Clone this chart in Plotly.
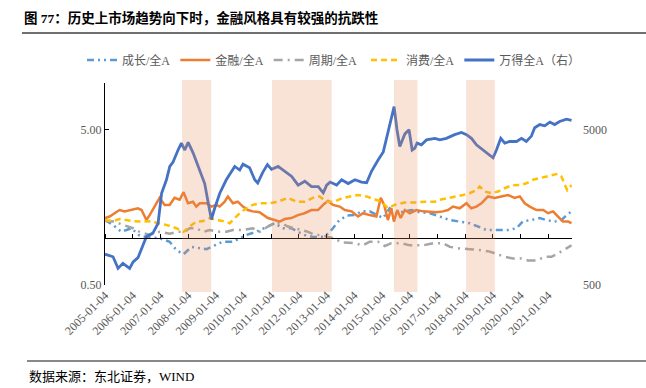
import plotly.graph_objects as go

# ---------------- data ----------------
wind_dates = ["2005-01-04","2005-04-20","2005-06-25","2005-08-28","2005-11-25","2006-01-10","2006-03-15","2006-05-20",
              "2006-07-05","2006-09-28","2006-12-05","2007-01-20","2007-03-25","2007-05-08","2007-06-20","2007-08-25",
              "2007-10-08","2007-11-22","2008-01-05","2008-03-10","2008-05-14","2008-06-28","2008-08-10","2008-09-22",
              "2008-11-06","2008-12-20","2009-02-25","2009-05-22","2009-07-28","2009-09-10","2009-11-15","2009-12-28",
              "2010-03-25","2010-06-01","2010-07-10","2010-09-13","2010-11-15","2011-01-08","2011-04-05","2011-07-04",
              "2011-10-01","2011-12-25","2012-03-22","2012-06-18","2012-09-15","2012-11-20","2013-01-04","2013-02-18",
              "2013-05-15","2013-07-20","2013-10-15","2014-01-12","2014-04-08","2014-06-15","2014-08-18","2014-11-15",
              "2015-01-20","2015-03-04","2015-04-18","2015-06-12","2015-07-20","2015-08-26","2015-11-01","2015-12-26",
              "2016-02-05","2016-03-10","2016-04-10","2016-06-06","2016-08-12","2016-12-01","2017-02-04","2017-05-01",
              "2017-08-18","2017-11-16","2018-01-22","2018-03-28","2018-06-01","2018-08-28","2018-11-01","2019-01-06",
              "2019-02-20","2019-04-18","2019-06-10","2019-08-14","2019-11-12","2020-01-16","2020-03-20","2020-05-26",
              "2020-07-08","2020-09-13","2020-11-18","2021-01-24","2021-03-28","2021-06-02","2021-09-01","2021-11-06"]
wind_values = [790,760,640,690,640,705,750,900,1025,1080,1250,1950,2380,2900,3100,3700,4100,3700,4150,3550,
               2900,2550,2250,1730,1320,1560,1950,2380,2700,2900,2750,3000,2850,2380,2270,2650,2980,2780,2900,2700,
               2500,2200,2330,2150,2150,1960,2200,2300,2200,2380,2250,2380,2300,2280,2700,3200,3600,4400,5400,7050,
               5000,3900,4700,5000,3700,3800,4100,4000,4300,4400,4300,4400,4650,4800,4650,4400,4000,3700,3450,3300,
               3700,4400,4100,4200,4200,4400,4200,4550,5150,5400,5300,5600,5400,5650,5850,5750]

fin_dates = ["2005-01-04","2005-03-06","2005-05-10","2005-07-15","2005-09-20","2005-12-18","2006-03-13","2006-05-01",
             "2006-07-04","2006-08-15","2006-10-20","2006-12-25","2007-03-01","2007-05-06","2007-07-10","2007-09-15",
             "2007-11-06","2008-01-03","2008-03-09","2008-04-21","2008-06-06","2008-09-03","2008-11-06","2009-01-12",
             "2009-02-24","2009-05-01","2009-06-12","2009-08-18","2009-10-21","2009-12-27","2010-03-03","2010-05-06",
             "2010-08-03","2010-11-21","2011-02-18","2011-04-24","2011-07-01","2011-09-27","2011-12-22","2012-03-19",
             "2012-06-16","2012-09-12","2012-11-18","2013-01-22","2013-03-28","2013-06-25","2013-09-01","2013-11-28",
             "2014-02-22","2014-04-28","2014-07-25","2014-10-22","2014-12-18","2015-02-01","2015-03-22","2015-05-06",
             "2015-06-10","2015-07-24","2015-09-07","2015-11-01","2016-01-04","2016-04-01","2016-06-28","2016-09-25",
             "2016-12-21","2017-03-16","2017-05-22","2017-07-27","2017-10-24","2018-01-21","2018-03-26","2018-06-01",
             "2018-08-06","2018-11-01","2019-01-28","2019-04-25","2019-07-22","2019-10-19","2019-12-25","2020-02-28",
             "2020-05-04","2020-08-01","2020-10-28","2021-01-01","2021-03-07","2021-05-12","2021-07-16","2021-09-22",
             "2021-11-06"]
fin_values = [1.35,1.38,1.45,1.52,1.49,1.52,1.56,1.52,1.31,1.41,1.60,1.82,1.64,1.64,1.82,1.77,1.98,1.68,1.72,1.60,
              1.68,1.68,1.60,1.64,1.60,1.72,1.86,1.68,1.72,1.60,1.52,1.49,1.47,1.35,1.31,1.28,1.33,1.35,1.41,1.45,
              1.52,1.52,1.64,1.74,1.64,1.60,1.52,1.49,1.38,1.45,1.41,1.38,1.82,1.64,1.31,1.56,1.28,1.52,1.35,1.52,
              1.45,1.52,1.49,1.48,1.47,1.49,1.52,1.60,1.56,1.68,1.56,1.60,1.68,1.86,1.82,1.86,1.90,1.82,1.86,1.68,
              1.60,1.52,1.52,1.45,1.49,1.38,1.28,1.28,1.25]

con_dates = ["2005-01-04","2005-04-20","2005-07-15","2005-10-12","2006-01-09","2006-05-19","2006-09-06","2006-12-03",
             "2007-03-22","2007-08-03","2007-11-06","2008-01-25","2008-04-21","2008-07-18","2008-10-15","2009-01-12",
             "2009-04-07","2009-07-06","2009-09-10","2009-11-15","2010-02-12","2010-05-06","2010-08-03","2010-12-15",
             "2011-04-03","2011-08-12","2011-12-01","2012-03-19","2012-07-06","2012-10-03","2013-01-01","2013-04-18",
             "2013-08-06","2013-11-28","2014-02-22","2014-06-12","2014-10-01","2014-12-27","2015-03-22","2015-06-19",
             "2015-11-01","2016-03-10","2016-07-19","2016-12-01","2017-02-04","2017-06-16","2017-09-12","2017-12-07",
             "2018-03-04","2018-06-01","2018-07-15","2018-09-19","2018-12-16","2019-03-13","2019-06-09","2019-09-06",
             "2019-12-25","2020-03-22","2020-06-16","2020-09-12","2020-12-10","2021-03-07","2021-05-07","2021-06-25",
             "2021-08-10","2021-09-10","2021-11-06"]
con_values = [1.31,1.29,1.33,1.31,1.29,1.28,1.29,1.25,1.22,1.16,1.10,1.19,1.28,1.29,1.35,1.31,1.29,1.25,1.35,1.45,
              1.56,1.64,1.68,1.68,1.72,1.82,1.72,1.72,1.82,1.86,1.72,1.72,1.82,1.86,1.90,1.86,1.77,1.72,1.56,1.64,
              1.70,1.70,1.72,1.72,1.77,1.82,1.86,1.90,1.95,2.04,2.15,2.00,1.95,2.00,2.10,2.19,2.20,2.26,2.38,2.44,
              2.50,2.56,2.60,2.50,2.20,2.04,2.20]

gro_dates = ["2005-01-04","2005-04-20","2005-08-07","2005-12-18","2006-04-06","2006-07-04","2006-12-25","2007-05-06",
             "2007-08-03","2007-11-06","2008-02-18","2008-06-06","2008-09-03","2008-12-20","2009-04-07","2009-08-18",
             "2009-11-15","2010-02-12","2010-06-21","2010-10-09","2011-02-18","2011-06-07","2011-09-27","2011-12-22",
             "2012-03-19","2012-07-06","2012-10-27","2013-01-01","2013-03-28","2013-06-03","2013-09-21","2014-01-09",
             "2014-04-06","2014-07-25","2014-10-22","2015-01-18","2015-04-15","2015-07-12","2015-11-01","2016-01-27",
             "2016-05-15","2016-09-25","2017-02-04","2017-06-16","2017-10-24","2018-03-04","2018-06-22","2018-10-12",
             "2019-01-07","2019-04-25","2019-07-22","2019-11-12","2020-02-06","2020-05-26","2020-09-12","2020-12-10",
             "2021-03-28","2021-06-25","2021-09-01","2021-11-06"]
gro_values = [1.31,1.22,1.10,1.16,1.04,1.02,1.00,0.95,0.84,0.79,0.88,0.86,0.85,0.90,0.95,0.95,1.00,1.05,1.10,1.16,
              1.25,1.16,1.16,1.10,1.05,1.02,1.02,1.05,1.16,1.28,1.40,1.41,1.49,1.49,1.41,1.35,1.56,1.45,1.49,1.52,
              1.47,1.45,1.38,1.31,1.28,1.25,1.19,1.13,1.13,1.13,1.13,1.16,1.29,1.31,1.35,1.31,1.28,1.31,1.41,1.49]

cyc_dates = ["2005-01-04","2005-05-10","2005-08-28","2006-01-09","2006-04-06","2006-08-15","2006-12-25","2007-05-06",
             "2007-08-24","2007-11-20","2008-01-25","2008-04-21","2008-07-18","2008-10-15","2009-02-24","2009-05-22",
             "2009-08-18","2009-12-27","2010-05-06","2010-08-03","2010-11-21","2011-02-18","2011-05-16","2011-08-12",
             "2011-11-10","2012-02-06","2012-05-04","2012-08-01","2012-10-27","2013-01-22","2013-04-18","2013-07-16",
             "2013-10-12","2014-01-09","2014-04-28","2014-07-25","2014-11-13","2015-02-10","2015-05-06","2015-09-16",
             "2016-01-04","2016-06-28","2016-11-07","2017-03-16","2017-06-16","2017-10-24","2018-03-04","2018-07-15",
             "2018-11-25","2019-02-21","2019-06-09","2019-09-27","2020-01-16","2020-04-12","2020-08-01","2020-11-18",
             "2021-02-15","2021-05-12","2021-09-01","2021-11-06"]
cyc_values = [1.29,1.28,1.22,1.16,1.10,1.05,1.10,1.07,1.10,1.10,1.16,1.16,1.10,1.13,1.10,1.10,1.13,1.13,1.16,1.10,
              1.19,1.25,1.25,1.19,1.16,1.13,1.10,1.05,1.05,1.02,1.00,0.94,0.93,0.93,0.90,0.95,0.95,0.89,0.93,0.93,
              0.90,0.90,0.93,0.93,0.88,0.86,0.85,0.84,0.82,0.79,0.76,0.74,0.74,0.72,0.72,0.76,0.76,0.80,0.86,0.90]

tick_labels = ["2005-01-04","2006-01-04","2007-01-04","2008-01-04","2009-01-04","2010-01-04","2011-01-04",
               "2012-01-04","2013-01-04","2014-01-04","2015-01-04","2016-01-04","2017-01-04","2018-01-04",
               "2019-01-04","2020-01-04","2021-01-04"]
period_starts = ["2007-10-16", "2011-01-14", "2015-06-10", "2018-01-16"]
period_ends = ["2008-11-04", "2013-03-10", "2016-04-15", "2019-01-30"]

# ---------------- figure ----------------
serif = "Liberation Serif, Noto Sans CJK SC"
gray_txt = "#595959"
L, R, T, B = 105, 74, 83, 103
PW, PH = 646 - L - R, 388 - T - B


def px_x(p):
    return (p - L) / PW


def px_y(p):
    return 1 - (p - T) / PH


fig = go.Figure()
fig.add_trace(go.Scatter(x=gro_dates, y=gro_values, name="成长/全A", mode="lines", legend="legend",
                         line=dict(color="#5B9BD5", width=2.5, dash="7px,4px,2px,4px,2px,4px")))
fig.add_trace(go.Scatter(x=fin_dates, y=fin_values, name="金融/全A", mode="lines", legend="legend",
                         line=dict(color="#ED7D31", width=2.5)))
fig.add_trace(go.Scatter(x=cyc_dates, y=cyc_values, name="周期/全A", mode="lines", legend="legend",
                         line=dict(color="#A5A5A5", width=2.5, dash="9px,5px,2px,5px")))
fig.add_trace(go.Scatter(x=con_dates, y=con_values, name="消费/全A", mode="lines", legend="legend2",
                         line=dict(color="#FFC000", width=2.5, dash="6px,4px")))
fig.add_trace(go.Scatter(x=wind_dates, y=wind_values, name="万得全A（右）", mode="lines", legend="legend2",
                         xaxis="x2", yaxis="y2",
                         line=dict(color="#4472C4", width=2.8)))

for s, e in zip(period_starts, period_ends):
    fig.add_shape(type="rect", xref="x", yref="paper", x0=s, x1=e, y0=px_y(292), y1=px_y(80),
                  fillcolor="rgba(230,140,90,0.25)", line_width=0, layer="above")

leg_font = dict(family=serif, size=12, color=gray_txt)
x_end = "2021-11-12"
fig.update_layout(
    width=646, height=388, autosize=False,
    margin=dict(l=L, r=R, t=T, b=B),
    paper_bgcolor="white", plot_bgcolor="white",
    showlegend=True,
    legend=dict(orientation="h", x=px_x(82), xanchor="left", y=px_y(60), yanchor="middle",
                font=leg_font, bgcolor="rgba(0,0,0,0)", itemwidth=30, tracegroupgap=0),
    legend2=dict(orientation="h", x=px_x(366), xanchor="left", y=px_y(60), yanchor="middle",
                 font=leg_font, bgcolor="rgba(0,0,0,0)", itemwidth=30, tracegroupgap=0),
    xaxis=dict(type="date", range=["2005-01-04", x_end], tickmode="array", tickvals=tick_labels,
               ticktext=tick_labels, tickangle=-45, showline=False, ticks="", showgrid=False,
               zeroline=False, automargin=False, tickfont=dict(family=serif, size=12, color=gray_txt)),
    xaxis2=dict(type="date", range=["2005-01-04", x_end], overlaying="x", anchor="free",
                position=0.2314, side="top", tickmode="array", tickvals=tick_labels,
                showticklabels=False, ticks="outside", ticklen=4, tickcolor="#000000", automargin=False,
                showline=True, linecolor="#000000", linewidth=1, showgrid=False, zeroline=False),
    yaxis=dict(type="log", range=[-0.30103, 1.0], tickmode="array", tickvals=[0.5, 5],
               ticktext=["0.50", "5.00"], ticks="inside", ticklen=4, tickcolor="#000000", automargin=False,
               showline=True, linecolor="#000000", linewidth=1, showgrid=False, zeroline=False,
               tickfont=dict(family=serif, size=12, color=gray_txt)),
    yaxis2=dict(type="log", range=[2.69897, 4.0], overlaying="y", side="right", anchor="x2",
                tickmode="array", tickvals=[500, 5000], ticktext=["500", "5000"], ticks="",
                showline=False, showgrid=False, zeroline=False, ticklabelstandoff=10, automargin=False,
                tickfont=dict(family=serif, size=12, color=gray_txt)),
)

# title, rules and source note
fig.add_annotation(xref="paper", yref="paper", x=px_x(22), y=px_y(18),
                   xanchor="left", yanchor="middle", showarrow=False,
                   text="<b>图 77：历史上市场趋势向下时，金融风格具有较强的抗跌性</b>",
                   font=dict(family=serif, size=13.5, color="#000000"))
fig.add_shape(type="line", xref="paper", yref="paper", x0=px_x(22), x1=px_x(646),
              y0=px_y(33), y1=px_y(33), line=dict(color="#404040", width=1.5))
fig.add_shape(type="line", xref="paper", yref="paper", x0=px_x(27), x1=px_x(646),
              y0=px_y(361), y1=px_y(361), line=dict(color="#606060", width=1.5))
fig.add_annotation(xref="paper", yref="paper", x=px_x(27), y=px_y(376),
                   xanchor="left", yanchor="middle", showarrow=False,
                   text="数据来源：东北证券，WIND",
                   font=dict(family=serif, size=13, color="#000000"))

fig.write_html("out.html", config={"displayModeBar": False},
               post_script="document.body.style.margin='0';document.body.style.overflow='hidden';")
